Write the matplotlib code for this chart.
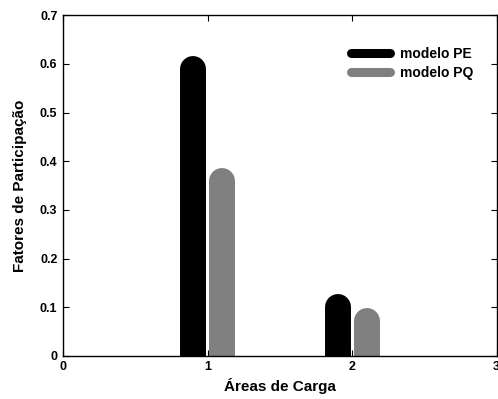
import matplotlib.pyplot as plt

plt.rcParams['font.family'] = ['Liberation Sans', 'DejaVu Sans']
plt.rcParams['font.weight'] = 'bold'

# data
areas = [1, 2]
offset = 0.1
pe_values = [0.59, 0.10]
pq_values = [0.36, 0.072]
series_labels = ['modelo PE', 'modelo PQ']
series_colors = ['black', '#808080']

fig = plt.figure(figsize=(4.98, 3.99), dpi=100)
ax = fig.add_axes([0.1265, 0.108, 0.871, 0.854])

for vals, shift, color, label in [(pe_values, -offset, series_colors[0], series_labels[0]),
                                  (pq_values, offset, series_colors[1], series_labels[1])]:
    for i, (a, v) in enumerate(zip(areas, vals)):
        ax.plot([a + shift, a + shift], [0, v], color=color, linewidth=18.7,
                solid_capstyle='round', label=label if i == 0 else None)

ax.set_xlim(0, 3)
ax.set_ylim(0, 0.7)
ax.set_xticks([0, 1, 2, 3])
ax.set_xticklabels(['0', '1', '2', '3'])
ax.set_yticks([0, 0.1, 0.2, 0.3, 0.4, 0.5, 0.6, 0.7])
ax.set_yticklabels(['0', '0.1', '0.2', '0.3', '0.4', '0.5', '0.6', '0.7'])
ax.tick_params(direction='in', top=True, right=True, labelsize=9, length=4, width=0.8, pad=4)
for sp in ax.spines.values():
    sp.set_linewidth(1.0)

ax.set_xlabel('Áreas de Carga', fontsize=11, fontweight='bold', labelpad=3)
ax.set_ylabel('Fatores de Participação', fontsize=11, fontweight='bold', labelpad=9)

leg = ax.legend(loc='upper left', bbox_to_anchor=(0.652, 0.922), borderaxespad=0,
                frameon=False, fontsize=10, handlelength=2.8, handletextpad=0.7,
                labelspacing=0.36)
for line in leg.get_lines():
    line.set_linewidth(6.5)

fig.savefig('out.png', dpi=100)
